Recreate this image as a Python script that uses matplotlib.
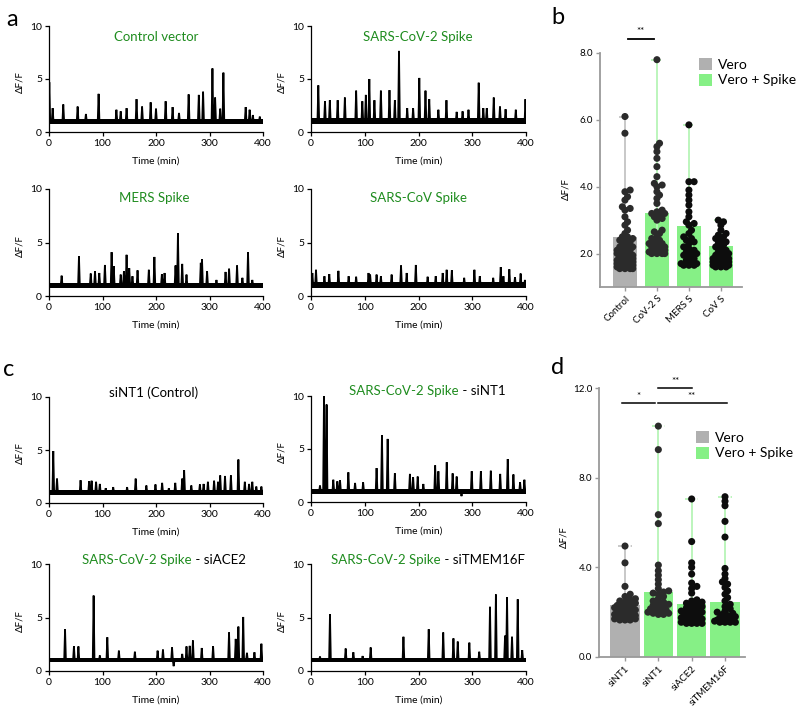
import numpy as np
import matplotlib
matplotlib.use('Agg')
import matplotlib.pyplot as plt
from matplotlib.patches import Patch

plt.rcParams['font.family'] = ['Lato', 'DejaVu Sans']

# ---------------- data: calcium traces (peak times / peak heights) ----------------
ctrl_t = [0.6, 6.8, 26.7, 53.5, 69, 92.7, 126, 134, 145, 163.6, 174, 190, 200, 218, 231, 243,
          261, 280, 288, 305.5, 310.5, 320, 326, 367.6, 375, 381, 394]
ctrl_h = [4.7, 2.25, 2.6, 2.4, 1.7, 3.6, 2.1, 1.95, 2.25, 3.1, 2.4, 2.8, 2.2, 2.9, 2.35, 1.8,
          3.55, 3.5, 3.8, 6.0, 3.25, 2.2, 5.6, 2.35, 2.1, 1.6, 1.45]

cov2_t = [13.6, 26, 35, 49.6, 63, 84, 95.5, 102, 108.5, 118, 130, 146, 156, 163.7, 179, 190,
          201.5, 213, 220, 237, 252, 271, 282, 293, 312, 320.6, 327, 340, 351.6, 362, 381, 399]
cov2_h = [4.4, 2.9, 3.0, 3.0, 3.25, 3.9, 2.9, 3.5, 5.0, 3.0, 3.9, 3.95, 3.0, 7.65, 2.25, 2.25,
          5.1, 3.9, 3.1, 2.1, 3.0, 1.9, 1.95, 2.1, 4.65, 2.25, 2.25, 3.25, 2.4, 2.15, 2.1, 3.1]

mers_t = [23.6, 56, 78, 86, 94, 104.5, 117, 121, 134, 140, 145, 150, 156, 165.5, 186.6, 197,
          211, 216, 236.5, 241, 249, 257, 283.7, 286, 295.5, 313, 330, 336.6, 351.5, 361.5, 372, 380]
mers_h = [1.9, 3.7, 2.1, 2.3, 2.15, 2.9, 4.1, 2.8, 2.0, 2.3, 3.85, 2.6, 1.85, 2.4, 2.45, 3.65,
          2.05, 2.15, 2.85, 5.85, 3.0, 2.0, 3.1, 3.45, 2.3, 1.5, 2.25, 2.55, 2.85, 1.7, 4.1, 1.5]

cov1_t = [2.5, 9.3, 25, 34, 51, 70, 84, 107, 110, 122, 130, 150, 167.5, 178, 195, 217, 232,
          245, 252.4, 262, 285, 304, 314, 339, 353, 358, 369, 379.5, 390, 398]
cov1_h = [2.15, 2.45, 1.85, 2.05, 2.35, 1.85, 1.8, 2.15, 2.0, 2.0, 1.85, 2.0, 2.85, 2.15, 2.9,
          1.8, 1.85, 2.15, 2.45, 2.4, 1.7, 2.45, 1.85, 1.7, 2.7, 1.85, 2.5, 1.75, 2.1, 1.5]

sint1_t = [8, 15, 59, 75, 79.6, 88, 95, 106, 120, 146, 162, 182, 199, 211.5, 224, 236, 249,
           252.6, 266, 282, 289, 297, 308.6, 316, 320, 329, 340, 354, 366, 374, 380, 387.5, 397]
sint1_h = [4.9, 2.3, 2.15, 2.05, 2.1, 2.0, 1.8, 1.4, 1.5, 1.5, 2.3, 1.65, 1.75, 1.9, 1.4, 1.9, 2.3,
           3.1, 1.65, 1.75, 1.8, 2.0, 2.1, 2.0, 2.6, 2.55, 2.6, 4.1, 2.0, 1.8, 2.0, 1.55, 1.55]

s_sint1_t = [16.7, 24.2, 29, 41.5, 49, 54, 69.5, 82, 97, 122, 132, 142.6, 156, 184, 190, 198.5,
             209, 231, 237, 252.5, 263.5, 271, 280, 299, 316, 334.5, 352, 366, 376.6, 389, 397]
s_sint1_h = [1.55, 10.0, 9.2, 2.1, 1.95, 2.05, 2.8, 1.8, 1.85, 3.2, 6.3, 5.95, 2.7, 2.65, 2.35, 2.4,
             1.7, 3.45, 2.9, 3.75, 2.7, 2.4, 0.55, 2.9, 2.9, 2.95, 2.65, 4.05, 2.6, 1.85, 2.1]

s_ace2_t = [30, 46.6, 55, 83.4, 95, 109, 130.6, 160.5, 203, 213, 230, 233, 249, 257, 263, 269,
            285.5, 306.7, 336.5, 349, 354, 363, 370, 384, 397]
s_ace2_h = [3.9, 2.3, 2.3, 7.05, 1.45, 3.15, 1.9, 1.8, 1.9, 2.0, 2.2, 0.45, 1.6, 2.3, 2.35, 2.85,
            2.15, 2.3, 3.6, 3.0, 4.15, 5.05, 1.7, 1.75, 2.55]

s_tmem_t = [16.7, 35.3, 64.5, 78.8, 96, 111, 172, 219, 246, 265, 273, 294.6, 313, 333, 344,
            361, 364.7, 374, 384.6, 393]
s_tmem_h = [1.35, 5.3, 2.1, 1.75, 1.4, 2.2, 3.2, 3.9, 3.6, 3.05, 2.75, 2.65, 1.8, 6.0, 7.15,
            3.3, 6.9, 3.2, 6.7, 1.95]

# ---------------- data: summary panels ----------------
b_cats = ['Control', 'CoV-2 S', 'MERS S', 'CoV S']
b_kind = ['Vero', 'Spike', 'Spike', 'Spike']
b_means = [2.5, 3.22, 2.82, 2.22]
b_control = [6.1, 5.6, 3.9, 3.85, 3.7, 3.6, 3.4, 3.35, 3.3, 3.1, 2.95, 2.85, 2.7, 2.6, 2.5, 2.5,
             2.45, 2.4, 2.4, 2.35, 2.3, 2.25, 2.2, 2.2, 2.15, 2.1, 2.1, 2.05, 2.0, 2.0, 1.95, 1.95,
             1.9, 1.9, 1.85, 1.85, 1.8, 1.8, 1.8, 1.75, 1.75, 1.7, 1.7, 1.7, 1.65, 1.65, 1.6, 1.6,
             1.6, 1.6, 1.55, 1.55, 1.55, 1.55]
b_cov2 = [7.8, 5.3, 5.2, 5.05, 4.85, 4.6, 4.3, 4.1, 4.05, 4.0, 3.85, 3.75, 3.65, 3.5, 3.3, 3.25,
          3.2, 3.2, 3.15, 3.1, 3.05, 3.0, 2.7, 2.65, 2.6, 2.5, 2.45, 2.4, 2.35, 2.3, 2.3, 2.25,
          2.2, 2.2, 2.15, 2.1, 2.1, 2.05, 2.05, 2.0, 2.0, 2.0, 2.0]
b_mers = [5.85, 4.15, 4.15, 3.9, 3.75, 3.6, 3.45, 3.25, 3.1, 2.95, 2.9, 2.85, 2.7, 2.6, 2.5,
          2.45, 2.4, 2.35, 2.3, 2.2, 2.15, 2.1, 2.05, 2.0, 2.0, 1.95, 1.9, 1.85, 1.8, 1.75, 1.7,
          1.7, 1.65, 1.65, 1.65]
b_cov1 = [3.0, 2.95, 2.85, 2.7, 2.6, 2.55, 2.5, 2.45, 2.4, 2.35, 2.3, 2.25, 2.2, 2.15, 2.1, 2.05,
          2.0, 2.0, 1.95, 1.9, 1.9, 1.85, 1.85, 1.8, 1.8, 1.75, 1.75, 1.7, 1.7, 1.7, 1.65, 1.65,
          1.65, 1.6, 1.6, 1.6]

d_cats = ['siNT1', 'siNT1', 'siACE2', 'siTMEM16F']
d_kind = ['Vero', 'Spike', 'Spike', 'Spike']
d_means = [2.3, 2.9, 2.35, 2.45]
d_sint1 = [4.95, 4.2, 3.15, 2.8, 2.7, 2.6, 2.55, 2.5, 2.45, 2.4, 2.35, 2.3, 2.3, 2.25, 2.2, 2.2,
           2.15, 2.1, 2.1, 2.05, 2.0, 2.0, 1.95, 1.95, 1.9, 1.9, 1.85, 1.85, 1.8, 1.8, 1.75, 1.75,
           1.7, 1.7, 1.7, 1.65, 1.65, 1.65]
d_s_sint1 = [10.3, 9.25, 6.35, 5.95, 4.1, 3.85, 3.65, 3.45, 3.25, 3.05, 2.95, 2.9, 2.85, 2.8,
             2.7, 2.6, 2.5, 2.45, 2.4, 2.35, 2.3, 2.25, 2.2, 2.15, 2.1, 2.05, 2.0, 2.0, 1.95,
             1.95, 1.9, 1.9]
d_s_ace2 = [7.05, 5.15, 4.2, 4.0, 3.7, 3.3, 3.15, 3.05, 2.85, 2.55, 2.5, 2.45, 2.4, 2.35, 2.3,
            2.25, 2.2, 2.15, 2.1, 2.05, 2.0, 2.0, 1.95, 1.9, 1.9, 1.85, 1.8, 1.8, 1.75, 1.7, 1.7,
            1.65, 1.65, 1.6, 1.6, 1.55, 1.55, 1.55, 1.5, 1.5, 1.5, 1.5]
d_s_tmem = [7.15, 6.95, 6.75, 6.05, 5.35, 3.95, 3.7, 3.5, 3.35, 3.25, 3.1, 2.95, 2.8, 2.65, 2.5,
            2.35, 2.25, 2.15, 2.05, 2.0, 1.95, 1.9, 1.85, 1.8, 1.75, 1.7, 1.7, 1.65, 1.65, 1.6,
            1.6, 1.6, 1.55, 1.55, 1.55, 1.55]

x_ticks = [0, 100, 200, 300, 400]
y_ticks = [0, 5, 10]

# ---------------- styling ----------------
GREEN_TXT = '#1f8c1f'
GRAY_BAR = '#b0b0b0'
GREEN_BAR = '#86f086'
GRAY_WH = '#c4c4c4'
GREEN_WH = '#b6f4b6'

W, H = 800, 715
fig = plt.figure(figsize=(8, 7.15), dpi=100)


def fax(x0, y0, x1, y1):
    return fig.add_axes([x0 / W, 1 - y1 / H, (x1 - x0) / W, (y1 - y0) / H])


def trace_panel(box, pt, ph, band):
    ax = fax(*box)
    order = np.argsort(pt)
    xs, ys = [0.0], [1.0]
    w = 1.6
    for i in order:
        xs += [pt[i] - w, pt[i], pt[i] + w]
        ys += [1.0, ph[i], 1.0]
    xs.append(400.0)
    ys.append(1.0)
    ax.fill_between([0, 400], band[0], band[1], color='black', lw=0, zorder=1)
    ax.plot(xs, ys, color='black', lw=1.3, zorder=2, solid_joinstyle='miter')
    ax.set_xlim(0, 400)
    ax.set_ylim(0, 10)
    ax.set_xticks(x_ticks)
    ax.set_yticks(y_ticks)
    for s in ['top', 'right']:
        ax.spines[s].set_visible(False)
    for s in ['left', 'bottom']:
        ax.spines[s].set_linewidth(0.9)
    ax.tick_params(direction='out', length=3, width=0.9, labelsize=7.5, pad=2)
    ax.set_ylabel('ΔF/F', fontsize=7)
    ax.yaxis.set_label_coords(-0.115, 0.47)
    ax.set_xlabel('Time (min)', fontsize=7.5, va='center')
    ax.xaxis.set_label_coords(0.5, -0.27)
    return ax


ax_a1 = trace_panel((49, 26, 263, 132), ctrl_t, ctrl_h, (0.78, 1.22))
ax_a2 = trace_panel((311, 26, 526, 132), cov2_t, cov2_h, (0.75, 1.3))
ax_a3 = trace_panel((49, 189, 263, 296), mers_t, mers_h, (0.78, 1.25))
ax_a4 = trace_panel((311, 189, 526, 296), cov1_t, cov1_h, (0.72, 1.35))
ax_c1 = trace_panel((49, 397, 263, 503), sint1_t, sint1_h, (0.78, 1.2))
ax_c2 = trace_panel((311, 396, 526, 502), s_sint1_t, s_sint1_h, (0.75, 1.25))
ax_c3 = trace_panel((49, 564, 263, 671), s_ace2_t, s_ace2_h, (0.82, 1.18))
ax_c4 = trace_panel((311, 564, 526, 671), s_tmem_t, s_tmem_h, (0.8, 1.25))

TFS = 9.5
fig.text(156 / W, 1 - 37 / H, 'Control vector', color=GREEN_TXT, fontsize=TFS, ha='center', va='center')
fig.text(418 / W, 1 - 37 / H, 'SARS-CoV-2 Spike', color=GREEN_TXT, fontsize=TFS, ha='center', va='center')
fig.text(154 / W, 1 - 198 / H, 'MERS Spike', color=GREEN_TXT, fontsize=TFS, ha='center', va='center')
fig.text(418 / W, 1 - 198 / H, 'SARS-CoV Spike', color=GREEN_TXT, fontsize=TFS, ha='center', va='center')
fig.text(154 / W, 1 - 393 / H, 'siNT1 (Control)', color='black', fontsize=TFS, ha='center', va='center')


def two_tone(x_left, y, suffix):
    t1 = fig.text(x_left / W, 1 - y / H, 'SARS-CoV-2 Spike', color=GREEN_TXT, fontsize=TFS,
                  ha='left', va='center')
    plt.annotate(suffix, xy=(1, 0), xycoords=t1, xytext=(0, 0), textcoords='offset points',
                 fontsize=TFS, color='black', ha='left', va='bottom', annotation_clip=False)


two_tone(349, 391, ' - siNT1')
two_tone(82, 560, ' - siACE2')
two_tone(331, 560, ' - siTMEM16F')

# panel letters
for lab, x, y in [('a', 12, 19), ('b', 558, 18), ('c', 9, 369), ('d', 558, 368)]:
    fig.text(x / W, 1 - y / H, lab, fontsize=17, ha='center', va='center')


# ---------------- summary panels ----------------
def swarm(values, center, px_x, px_y, d, maxw):
    vals = sorted(values)
    placed = []
    xs = []
    step = d * 0.4
    cands = [0.0]
    k = 1
    while k * step <= maxw:
        cands += [k * step, -k * step]
        k += 1
    for v in vals:
        y = v * px_y
        chosen = None
        for c in cands:
            if all((c - px) ** 2 + (y - py) ** 2 >= (d * 0.6) ** 2 for px, py in placed):
                chosen = c
                break
        if chosen is None:
            chosen = max(cands, key=lambda c: min((c - px) ** 2 + (y - py) ** 2 for px, py in placed))
        placed.append((chosen, y))
        xs.append(center + chosen / px_x)
    return np.array(xs), np.array(vals)


def summary_panel(box, cats, kinds, means, groups, ylim, yticks, ylabels, xlim, barw,
                  dot_cols, label_y):
    ax = fax(*box)
    x0, y0, x1, y1 = box
    px_x = (x1 - x0) / (xlim[1] - xlim[0])
    px_y = (y1 - y0) / (ylim[1] - ylim[0])
    xpos = np.arange(len(cats))
    for i, (m, k, g) in enumerate(zip(means, kinds, groups)):
        bc = GRAY_BAR if k == 'Vero' else GREEN_BAR
        wc = GRAY_WH if k == 'Vero' else GREEN_WH
        ax.bar(xpos[i], m, width=barw, color=bc, zorder=1)
        ax.vlines(xpos[i], min(g), max(g), color=wc, lw=1.3, zorder=1.5)
        ax.hlines(max(g), xpos[i] - 0.2, xpos[i] + 0.2, color=wc, lw=1.3,
                  linestyles=(0, (2, 1.5)), zorder=1.5)
        sx, sy = swarm(g, xpos[i], px_x, px_y, 6.5, barw * px_x * 0.5 - 3.5)
        ax.scatter(sx, sy, s=26, color=dot_cols[i], edgecolors='none', zorder=3)
    ax.set_xlim(*xlim)
    ax.set_ylim(*ylim)
    ax.set_yticks(yticks)
    ax.set_yticklabels(ylabels)
    ax.set_xticks(xpos)
    ax.set_xticklabels(cats, rotation=45, ha='right', rotation_mode='anchor')
    for s in ['top', 'right']:
        ax.spines[s].set_visible(False)
    for s in ['left', 'bottom']:
        ax.spines[s].set_linewidth(1.3)
        ax.spines[s].set_color('#9a9a9a')
    ax.tick_params(direction='out', length=3, width=1.0, color='#9a9a9a', labelsize=7, pad=2)
    ax.set_ylabel('ΔF/F', fontsize=7)
    ax.yaxis.set_label_coords(-0.21, label_y)
    return ax


ax_b = summary_panel((600, 53, 742, 287), b_cats, b_kind, b_means,
                     [b_control, b_cov2, b_mers, b_cov1], (1.0, 8.0), [2, 4, 6, 8],
                     ['2.0', '4.0', '6.0', '8.0'], (-0.78, 3.66), 0.76,
                     ['#2b2b2b', '#2b2b2b', '#0d0d0d', '#0d0d0d'], 0.42)
ax_d = summary_panel((599, 388, 745, 657), d_cats, d_kind, d_means,
                     [d_sint1, d_s_sint1, d_s_ace2, d_s_tmem], (0.0, 12.0), [0, 4, 8, 12],
                     ['0.0', '4.0', '8.0', '12.0'], (-0.78, 3.6), 0.88,
                     ['#2b2b2b', '#2b2b2b', '#0d0d0d', '#0d0d0d'], 0.446)

# significance bars
ax_b.plot([0.1, 0.9], [8.42, 8.42], color='black', lw=1.3, clip_on=False)
ax_b.text(0.5, 8.5, '**', ha='center', va='bottom', fontsize=7)
ax_d.plot([-0.1, 0.9], [11.33, 11.33], color='black', lw=1.1, clip_on=False)
ax_d.text(0.4, 11.4, '*', ha='center', va='bottom', fontsize=7)
ax_d.plot([1.0, 2.0], [12.0, 12.0], color='black', lw=1.1, clip_on=False)
ax_d.text(1.5, 12.07, '**', ha='center', va='bottom', fontsize=7)
ax_d.plot([1.0, 3.05], [11.33, 11.33], color='black', lw=1.1, clip_on=False)
ax_d.text(2.0, 11.4, '**', ha='center', va='bottom', fontsize=7)

handles = [Patch(facecolor=GRAY_BAR, edgecolor='none', label='Vero'),
           Patch(facecolor=GREEN_BAR, edgecolor='none', label='Vero + Spike')]
for (lx, ly) in [(699, 58), (696, 431)]:
    fig.legend(handles=handles, loc='upper left', bbox_to_anchor=(lx / W, 1 - ly / H),
               frameon=False, fontsize=10, handlelength=0.95, handleheight=0.95,
               handletextpad=0.45, labelspacing=0.2, borderpad=0, borderaxespad=0)

fig.savefig('out.png', dpi=100)
